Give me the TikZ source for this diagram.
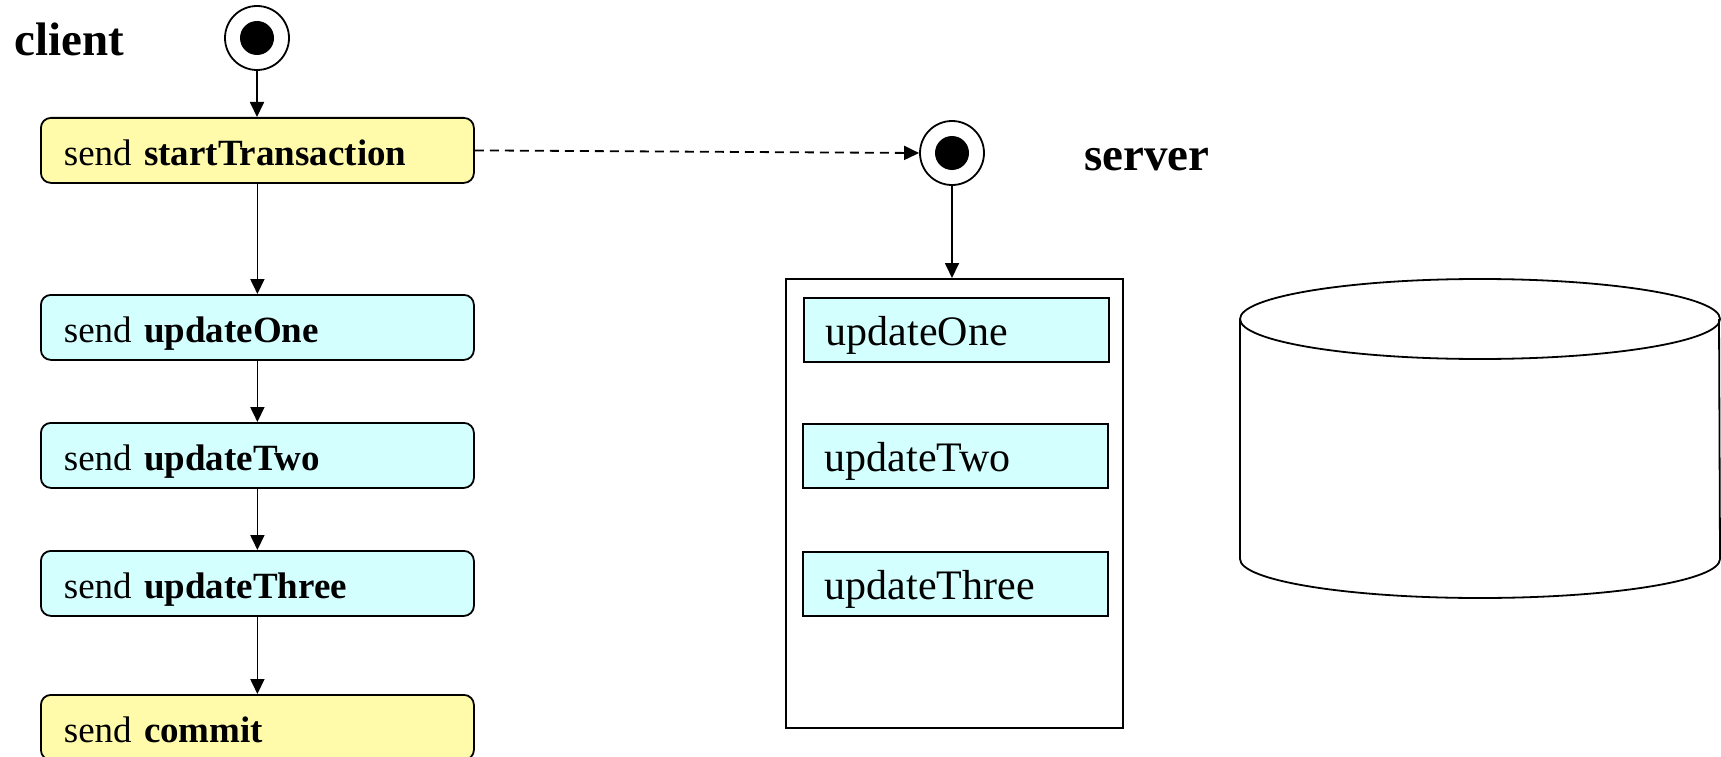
\documentclass[tikz,border=0pt]{standalone}
\usepackage{fontspec}
\setmainfont{Liberation Serif}
\usetikzlibrary{arrows.meta}
\definecolor{actyellow}{RGB}{255,251,170}
\definecolor{actcyan}{RGB}{212,255,255}

\begin{document}
\begin{tikzpicture}[x=1pt,y=-1pt,
  flow/.style={-{Triangle[length=15pt,width=14pt]}, line width=1.8pt},
  msg/.style={flow, dash pattern=on 9pt off 6pt},
  startnode/.style={circle, draw, line width=1.8pt, minimum size=64pt, inner sep=0pt},
  startdot/.style={circle, fill=black, minimum size=34pt, inner sep=0pt},
  title/.style={anchor=base west, inner sep=0pt, font=\fontsize{47}{56}\selectfont\bfseries},
  action/.style={draw, line width=1.8pt, rounded corners=10pt, anchor=north west,
    inner xsep=23pt, inner ysep=0pt, text width=387pt, align=left,
    text height=48pt, text depth=17pt, font=\fontsize{37}{44}\selectfont},
  sendcall/.style={action, fill=actyellow},
  sendupdate/.style={action, fill=actcyan},
  srvop/.style={draw, line width=1.8pt, fill=actcyan, anchor=north west,
    inner xsep=22pt, inner ysep=0pt, text width=261pt, align=left,
    text height=48pt, text depth=16pt, font=\fontsize{42}{50}\selectfont},
  container/.style={draw, line width=1.8pt, anchor=north west, inner sep=0pt},
  store/.style={line width=1.8pt}
]
\useasboundingbox (0,0) rectangle (1721,757);

% client side
\node[title] (client) at (14,56) {client};
\node[startnode] (cstart) at (257,38) {};
\node[startdot] (cdot) at (cstart.center) {};

\node[sendcall]   (stA)   at (40,117) {send \textbf{startTransaction}};
\node[sendupdate] (upd1)  at (40,294) {send \textbf{updateOne}};
\node[sendupdate] (upd2)  at (40,422) {send \textbf{updateTwo}};
\node[sendupdate] (upd3)  at (40,550) {send \textbf{updateThree}};
\node[sendcall]   (cmt)   at (40,694) {send \textbf{commit}};

\draw[flow] (cstart.south) -- (cstart.south |- stA.north);
\draw[flow] (stA.south) -- (upd1.north);
\draw[flow] (upd1.south) -- (upd2.north);
\draw[flow] (upd2.south) -- (upd3.north);
\draw[flow] (upd3.south) -- (cmt.north);

% server side
\node[title] (server) at (1084,171) {server};
\node[startnode] (sstart) at (952,153) {};
\node[startdot] (sdot) at (sstart.center) {};

\node[container, minimum width=337pt, minimum height=449pt] (srvbox) at (785,278) {};
\node[srvop] (sop1) at (803,297) {updateOne};
\node[srvop] (sop2) at (802,423) {updateTwo};
\node[srvop] (sop3) at (802,551) {updateThree};

\draw[msg] (stA.east) -- (sstart.west);
\draw[flow] (sstart.south) -- (sstart.south |- srvbox.north);

% database cylinder
\draw[store] (1480,319) ellipse [x radius=240pt, y radius=40pt];
\draw[store] (1240,319) -- (1240,559)
  arc[start angle=180, end angle=360, x radius=240pt, y radius=39pt]
  -- (1719,319);
\end{tikzpicture}
\end{document}
